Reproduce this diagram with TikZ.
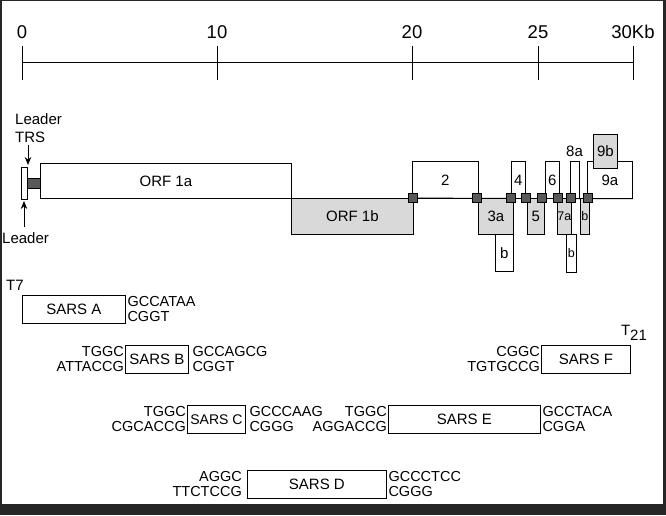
\documentclass[tikz,border=0pt]{standalone}
\usepackage{fontspec}
\setmainfont{Liberation Sans}
\usetikzlibrary{arrows.meta}
\begin{document}
\begin{tikzpicture}[x=1pt,y=-1pt,
  gbox/.style={draw, rectangle, inner sep=0pt, anchor=north west, line width=0.8pt, fill=white,
    font=\fontsize{15}{18}\selectfont},
  shade/.style={fill=black!15},
  junc/.style={draw, rectangle, inner sep=0pt, minimum width=9pt, minimum height=9pt, fill=black!65, line width=0.6pt},
  lab/.style={inner sep=0pt, font=\fontsize{15}{18}\selectfont},
  small/.style={font=\fontsize{12.5}{14}\selectfont},
  scl/.style={inner sep=0pt, font=\fontsize{18.5}{20}\selectfont},
  seqL/.style={inner sep=1pt, anchor=east, align=right, font=\fontsize{14.5}{15}\selectfont},
  seqR/.style={inner sep=1.5pt, anchor=west, align=left, font=\fontsize{14.5}{15}\selectfont},
  arr/.style={line width=0.9pt, -{Stealth[length=8pt,width=6.5pt]}}]
% frame
\fill[black!85] (0,0) rectangle (666,515);
\fill[white] (2,1) rectangle (663,504);
\useasboundingbox (0,0) rectangle (666,515);
% scale
\coordinate (s0) at (22,62);
\coordinate (s30) at (633,62);
\draw[line width=0.8pt] (s0) -- (s30);
\foreach \x/\t/\n in {22/0/a,217/10/b,412/20/c,538/25/d,633/30Kb/e}{
  \draw[line width=0.8pt] (\x,46) -- (\x,80);
  \node[scl] (sl\n) at (\x,32) {\t};
}
% genome
\node[lab, align=left, anchor=west] (ltrs) at (15,128) {Leader\\TRS};
\node[lab, anchor=west] (lbot) at (2,238) {Leader};
\node[gbox, minimum width=6pt, minimum height=32pt] (leader) at (21,167) {};
\node[gbox, fill=black!65, minimum width=13pt, minimum height=10pt] (trs) at (27,178) {};
\node[gbox, minimum width=251pt, minimum height=35pt] (orf1a) at (40,163) {ORF 1a};
\node[gbox, shade, minimum width=122pt, minimum height=36pt] (orf1b) at (291,198) {ORF 1b};
\node[gbox, minimum width=66pt, minimum height=37pt] (n2) at (412,161) {2};
\node[gbox, minimum width=45pt, minimum height=37pt] (n9a) at (587,161) {9a};
\draw[line width=0.8pt] (orf1b.north east) -- (n9a.south east);
\node[gbox, minimum width=18pt, minimum height=37pt] (n3b) at (495,234) {b};
\node[gbox, shade, minimum width=35pt, minimum height=36pt] (n3a) at (478,198) {3a};
\node[gbox, minimum width=14pt, minimum height=37pt] (n4) at (511,161) {4};
\node[gbox, shade, minimum width=17pt, minimum height=36pt] (n5) at (527,198) {5};
\node[gbox, minimum width=14pt, minimum height=37pt] (n6) at (545,161) {6};
\node[gbox, small, minimum width=10pt, minimum height=38pt] (n7b) at (566,234) {b};
\node[gbox, shade, small, minimum width=13pt, minimum height=36pt] (n7a) at (557,198) {7a};
\node[gbox, minimum width=9pt, minimum height=37pt] (n8a) at (570,161) {};
\node[lab] (l8a) at (574.5,151) {8a};
\node[gbox, shade, small, minimum width=9pt, minimum height=36pt] (n8b) at (580,198) {b};
\node[gbox, shade, minimum width=24pt, minimum height=34pt] (n9b) at (593,134) {9b};
\foreach \x/\n in {413/a,477/b,511/c,526/d,542/e,558/f,571/g,588/h}{
  \node[junc] (j\n) at (\x,198) {};
}
\draw[arr] (ltrs.south west) ++(13,2) coordinate (ta) -- (28,165) coordinate (tb);
\draw[arr] (lbot.north west) ++(22,-5) coordinate (ua) -- (24,201) coordinate (ub);
% fragments
\node[lab, anchor=west] (t7) at (6,285) {T7};
\node[gbox, minimum width=103pt, minimum height=28pt] (sa) at (22,295) {SARS A};
\node[seqR] (saR) at (sa.east) {GCCATAA\\CGGT};
\node[gbox, minimum width=63pt, minimum height=28pt] (sb) at (125,345) {SARS B};
\node[seqL] (sbL) at (sb.west) {TGGC\\ATTACCG};
\node[seqR] (sbR) at ([xshift=2pt]sb.east) {GCCAGCG\\CGGT};
\node[gbox, minimum width=89pt, minimum height=28pt] (sf) at (541,345) {SARS F};
\node[seqL] (sfL) at (sf.west) {CGGC\\TGTGCCG};
\node[lab] (t21) at (634,333) {T\raisebox{-5pt}{21}};
\node[gbox, font=\fontsize{14}{16}\selectfont, minimum width=58pt, minimum height=28pt] (sc) at (187,405) {SARS C};
\node[seqL] (scL) at (sc.west) {TGGC\\CGCACCG};
\node[seqR] (scR) at ([xshift=2pt]sc.east) {GCCCAAG\\CGGG};
\node[gbox, minimum width=152pt, minimum height=28pt] (se) at (388,405) {SARS E};
\node[seqL] (seL) at (se.west) {TGGC\\AGGACCG};
\node[seqR] (seR) at (se.east) {GCCTACA\\CGGA};
\node[gbox, minimum width=139pt, minimum height=28pt] (sd) at (247,470) {SARS D};
\node[seqL] (sdL) at ([xshift=-4pt]sd.west) {AGGC\\TTCTCCG};
\node[seqR] (sdR) at (sd.east) {GCCCTCC\\CGGG};
\end{tikzpicture}
\end{document}
